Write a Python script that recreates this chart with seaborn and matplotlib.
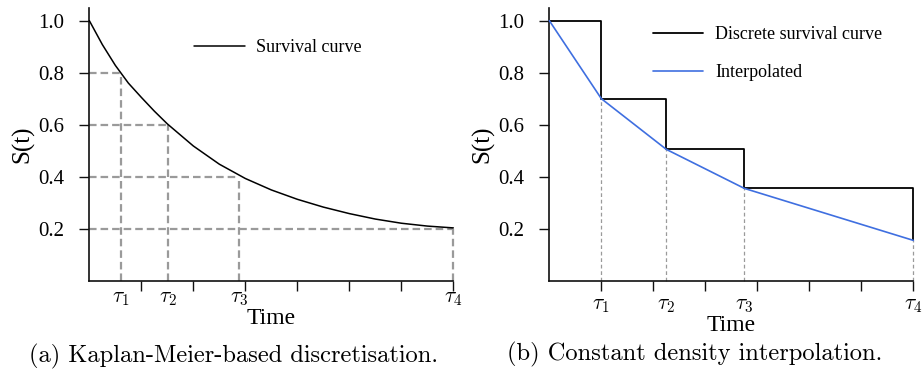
import numpy as np
import pandas as pd
import matplotlib
matplotlib.use("Agg")
import matplotlib.pyplot as plt
import seaborn as sns

# ---------------- data ----------------
# panel (a): survival curve
km_time = [0.0, 0.25, 0.5, 0.75, 1.0, 1.25, 1.5, 2.0, 2.5, 3.0, 3.5, 4.0, 4.5,
           5.0, 5.5, 6.0, 6.5, 7.0]
km_surv = [1.0, 0.908, 0.828, 0.760, 0.705, 0.652, 0.603, 0.518, 0.448, 0.393,
           0.349, 0.313, 0.283, 0.258, 0.237, 0.221, 0.210, 0.203]
km_tau = [0.61, 1.52, 2.88, 7.0]
km_levels = [0.8, 0.6, 0.4, 0.2]

# panel (b): discrete survival curve and interpolation
b_time = [0.0, 1.0, 2.25, 3.75, 7.0]
b_surv = [1.0, 0.70, 0.505, 0.355, 0.155]
b_tau = [1.0, 2.25, 3.75, 7.0]

tau_labels = [r"$\tau_1$", r"$\tau_2$", r"$\tau_3$", r"$\tau_4$"]
yticks = [0.2, 0.4, 0.6, 0.8, 1.0]
xticks_major = [1, 2, 3, 4, 5, 6, 7]

# ---------------- style ----------------
sns.set_theme(style="ticks")
plt.rcParams["font.family"] = ["Liberation Serif", "DejaVu Serif"]
plt.rcParams["mathtext.fontset"] = "cm"
for k in ["text.color", "axes.labelcolor", "xtick.color", "ytick.color"]:
    plt.rcParams[k] = "black"

fig = plt.figure(figsize=(9.22, 3.74), dpi=100)
axL = fig.add_axes([0.0969, 0.2495, 0.3948, 0.73])
axR = fig.add_axes([0.5958, 0.2495, 0.3948, 0.73])

grey = "#9a9a9a"
blue = "#3f6fe0"

def style_axes(ax, tau, tick_pad):
    ax.set_xlim(0, 7)
    ax.set_ylim(0, 1.05)
    for s in ["top", "right"]:
        ax.spines[s].set_visible(False)
    for s in ["left", "bottom"]:
        ax.spines[s].set_linewidth(1.2)
        ax.spines[s].set_color("#111111")
    ax.xaxis.remove_overlapping_locs = False
    ax.set_yticks(yticks)
    ax.set_yticklabels([f"{v:.1f}" for v in yticks])
    ax.set_xticks(xticks_major)
    ax.set_xticklabels([])
    ax.set_xticks(tau, minor=True)
    ax.set_xticklabels(tau_labels, minor=True)
    ax.tick_params(axis="y", which="major", length=7, width=1.0, pad=11,
                   labelsize=15, color="#111111", labelcolor="black")
    ax.tick_params(axis="x", which="major", length=7, width=1.0, color="#111111")
    ax.tick_params(axis="x", which="minor", length=0, pad=tick_pad, labelsize=15.5,
                   labelcolor="black")
    ax.set_ylabel("S(t)", fontsize=18, labelpad=3, color="black")
    ax.set_xlabel("Time", fontsize=17, labelpad=0, color="black")
    ax.grid(False)

# ---------------- panel (a) ----------------
dfa = pd.DataFrame({"Time": km_time, "S": km_surv})
for t, lv in zip(km_tau, km_levels):
    axL.plot([0, t], [lv, lv], color=grey, lw=1.6, dashes=(3.4, 1.8), clip_on=False, zorder=1)
    axL.plot([t, t], [0, lv], color=grey, lw=1.6, dashes=(3.4, 1.8), clip_on=False, zorder=1)
sns.lineplot(data=dfa, x="Time", y="S", ax=axL, color="black", lw=1.1,
             estimator=None, sort=False, label="Survival curve", clip_on=False, zorder=3)
style_axes(axL, km_tau, 6)
axL.legend(loc="upper left", bbox_to_anchor=(0.288, 0.884), frameon=False,
           fontsize=13, handlelength=2.8, handletextpad=0.65, borderpad=0, borderaxespad=0)

# ---------------- panel (b) ----------------
dfb = pd.DataFrame({"Time": b_time, "S": b_surv})
for t, s in zip(b_tau, b_surv[1:]):
    axR.plot([t, t], [0, s], color=grey, lw=0.9, dashes=(3, 2.2), clip_on=False, zorder=1)
sns.lineplot(data=dfb, x="Time", y="S", ax=axR, color="black", lw=1.3,
             drawstyle="steps-post", estimator=None, sort=False,
             label="Discrete survival curve", clip_on=False, zorder=2)
sns.lineplot(data=dfb, x="Time", y="S", ax=axR, color=blue, lw=1.2,
             estimator=None, sort=False, label="Interpolated", clip_on=False, zorder=3)
style_axes(axR, b_tau, 11)
axR.legend(loc="upper left", bbox_to_anchor=(0.284, 0.932), frameon=False,
           fontsize=13, handlelength=2.8, handletextpad=0.65, labelspacing=1.15,
           borderpad=0, borderaxespad=0)

# ---------------- captions ----------------
fig.text(233.5 / 922, 1 - 356 / 374, "(a) Kaplan-Meier-based discretisation.",
         ha="center", va="center", fontsize=17.6, family="cmr10")
fig.text(695 / 922, 1 - 354 / 374, "(b) Constant density interpolation.",
         ha="center", va="center", fontsize=17.6, family="cmr10")

fig.savefig("out.png", dpi=100)
